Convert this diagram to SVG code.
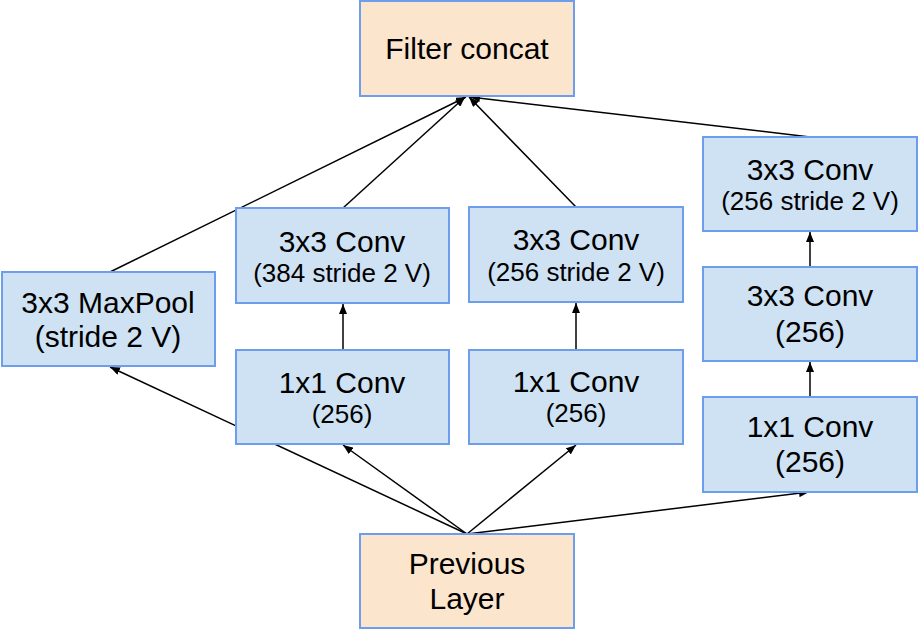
<svg xmlns="http://www.w3.org/2000/svg" width="919" height="631" viewBox="0 0 919 631">
<style>
.b{fill:#cfe2f3;stroke:#6d9eeb;stroke-width:2}
.o{fill:#fce5cd;stroke:#6d9eeb;stroke-width:2}
text{font-family:"Liberation Sans",Arial,sans-serif;fill:#000;text-anchor:middle}
.L{font-size:30px}
.S{font-size:26px}
.c{stroke:#000;stroke-width:1.5;fill:none;marker-end:url(#ah)}
</style>
<defs>
<marker id="ah" viewBox="0 0 10 8" refX="10" refY="4" markerWidth="10" markerHeight="8" markerUnits="userSpaceOnUse" orient="auto">
<path d="M0,0 L10,4 L0,8 Z" fill="#000"/>
</marker>
</defs>
<g id="connectors">
<line class="c" x1="467" y1="534" x2="110" y2="367"/>
<line class="c" x1="467" y1="534" x2="343" y2="445"/>
<line class="c" x1="467" y1="534" x2="576" y2="445"/>
<line class="c" x1="467" y1="534" x2="809" y2="492"/>
<line class="c" x1="343" y1="350" x2="343" y2="304"/>
<line class="c" x1="576" y1="350" x2="576" y2="303"/>
<line class="c" x1="810" y1="397" x2="810" y2="362"/>
<line class="c" x1="810" y1="267" x2="810" y2="232"/>
<line class="c" x1="110" y1="272" x2="466" y2="97"/>
<line class="c" x1="343" y1="208" x2="465" y2="97"/>
<line class="c" x1="576" y1="207" x2="469" y2="97"/>
<line class="c" x1="810" y1="137" x2="470" y2="97"/>
</g>
<g id="filter_concat">
<rect class="o" x="360" y="1" width="214" height="95"/>
<text class="L" x="467" y="59">Filter concat</text>
</g>
<g id="maxpool">
<rect class="b" x="2" y="272" width="213" height="94"/>
<text class="L" x="108" y="313">3x3 MaxPool</text>
<text class="L" x="108" y="347">(stride 2 V)</text>
</g>
<g id="conv3x3_384">
<rect class="b" x="236" y="208" width="213" height="95"/>
<text class="L" x="342" y="252">3x3 Conv</text>
<text class="S" x="342" y="282">(384 stride 2 V)</text>
</g>
<g id="conv1x1_a">
<rect class="b" x="236" y="350" width="213" height="94"/>
<text class="L" x="342" y="393">1x1 Conv</text>
<text class="S" x="342" y="423">(256)</text>
</g>
<g id="conv3x3_256a">
<rect class="b" x="469" y="207" width="214" height="95"/>
<text class="L" x="576" y="250">3x3 Conv</text>
<text class="S" x="576" y="281">(256 stride 2 V)</text>
</g>
<g id="conv1x1_b">
<rect class="b" x="469" y="350" width="214" height="94"/>
<text class="L" x="576" y="392">1x1 Conv</text>
<text class="S" x="576" y="422">(256)</text>
</g>
<g id="conv3x3_256b">
<rect class="b" x="703" y="137" width="214" height="94"/>
<text class="L" x="810" y="180">3x3 Conv</text>
<text class="S" x="810" y="210">(256 stride 2 V)</text>
</g>
<g id="conv3x3_256c">
<rect class="b" x="703" y="267" width="214" height="94"/>
<text class="L" x="810" y="306">3x3 Conv</text>
<text class="L" x="810" y="342">(256)</text>
</g>
<g id="conv1x1_c">
<rect class="b" x="703" y="397" width="214" height="95"/>
<text class="L" x="810" y="437">1x1 Conv</text>
<text class="L" x="810" y="472">(256)</text>
</g>
<g id="previous_layer">
<rect class="o" x="360" y="534" width="214" height="94"/>
<text class="L" x="467" y="574">Previous</text>
<text class="L" x="467" y="609">Layer</text>
</g>
</svg>
